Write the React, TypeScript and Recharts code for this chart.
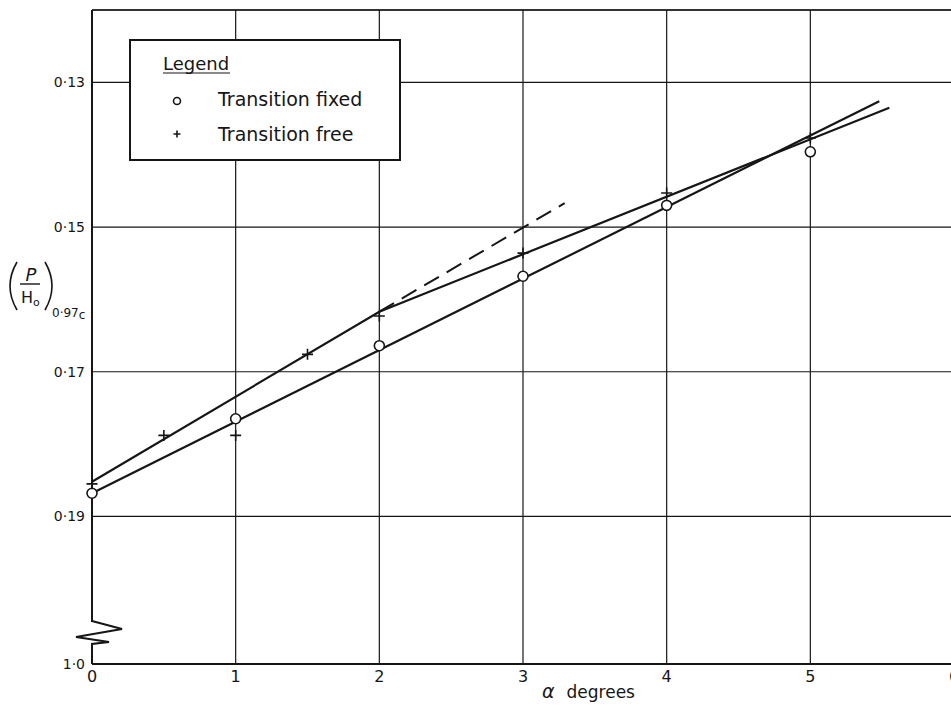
import {
  ComposedChart, Line, Scatter, XAxis, YAxis, CartesianGrid, ReferenceLine, Legend,
} from "recharts";

const FONT = "'DejaVu Sans', 'Liberation Sans', sans-serif";
const INK = "#161616";

// abscissa: incidence in degrees
const ALPHA_TICKS = [0, 1, 2, 3, 4, 5, 6];
// ordinate: (p/H0) at 0.97c, plotted downwards; broken below 0·19
const P_TICKS = [0.13, 0.15, 0.17, 0.19];
const P_TOP = 0.12;
const P_BREAK = 0.2104; // stands for 1·0 once the axis is broken

const FIXED_NAME = "Transition fixed";
const FREE_NAME = "Transition free";

// measured points
const FIXED_ALPHA = [0, 1, 2, 3, 4, 5];
const FIXED_P = [0.1868, 0.1765, 0.1664, 0.1568, 0.147, 0.1396];
const FREE_ALPHA = [0, 0.5, 1, 1.5, 2, 3, 4, 5];
const FREE_P = [0.1855, 0.1788, 0.1788, 0.1676, 0.1623, 0.1536, 0.1453, 0.1377];

// faired lines through them
const FIXED_FIT_ALPHA = [0, 5.48];
const FIXED_FIT_P = [0.1868, 0.1326];
const FREE_FIT_ALPHA = [0, 2, 5.55];
const FREE_FIT_P = [0.1852, 0.1617, 0.1335];
// first slope carried on past 2°
const FREE_EXT_ALPHA = [2, 3.29];
const FREE_EXT_P = [0.1617, 0.1467];

const zip = (xs: number[], ys: number[]) => xs.map((x, i) => ({ x, y: ys[i] }));

const fixedPts = zip(FIXED_ALPHA, FIXED_P);
const freePts = zip(FREE_ALPHA, FREE_P);
const fixedFit = zip(FIXED_FIT_ALPHA, FIXED_FIT_P);
const freeFit = zip(FREE_FIT_ALPHA, FREE_FIT_P);
const freeExt = zip(FREE_EXT_ALPHA, FREE_EXT_P);

// "0.13" -> "0·13"
function fmtP(v: number): string {
  return v === P_BREAK ? "1·0" : v.toFixed(2).replace(".", "·");
}

function Ring({ cx, cy, r = 5 }: any) {
  return <circle cx={cx} cy={cy} r={r} fill="#fff" stroke={INK} strokeWidth={1.6} />;
}

function Cross({ cx, cy, h = 5.5 }: any) {
  return (
    <path
      d={`M${cx - h},${cy}H${cx + h}M${cx},${cy - h}V${cy + h}`}
      stroke={INK}
      strokeWidth={1.6}
      fill="none"
    />
  );
}

function PTick({ x, y, payload }: any) {
  return (
    <text x={x} y={y} dy="0.35em" textAnchor="end" fontSize={14} fontFamily={FONT} fill={INK}>
      {fmtP(payload.value)}
    </text>
  );
}

function AlphaTick({ x, y, payload }: any) {
  return (
    <text x={x} y={y} dy="0.71em" textAnchor="middle" fontSize={16} fontFamily={FONT} fill={INK}>
      {payload.value}
    </text>
  );
}

function AlphaTitle() {
  return (
    <text x={542} y={698} fontSize={17} fontFamily={FONT} fill={INK}>
      <tspan fontStyle="italic" fontSize={19}>α</tspan>
      <tspan dx={12}>degrees</tspan>
    </text>
  );
}

// break mark on the ordinate plus the (p/H0) title
function PAxisDecor() {
  return (
    <g fill={INK} fontFamily={FONT}>
      <rect x={86} y={622} width={12} height={23} fill="#fff" />
      <polyline
        points="92,621 122,629 76,637 109,642 92,644 92,647"
        fill="none"
        stroke={INK}
        strokeWidth={2}
      />
      <path d="M17 262 Q3 286 17 310" fill="none" stroke={INK} strokeWidth={1.6} />
      <path d="M45 262 Q59 286 45 310" fill="none" stroke={INK} strokeWidth={1.6} />
      <text x={31} y={281} fontSize={18} fontStyle="italic" textAnchor="middle">P</text>
      <line x1={20} x2={40} y1={284} y2={284} stroke={INK} strokeWidth={1.4} />
      <text x={21} y={303} fontSize={16}>H</text>
      <text x={33} y={306} fontSize={11}>o</text>
      <text x={52} y={317} fontSize={12}>
        0·97<tspan dy={2}>c</tspan>
      </text>
    </g>
  );
}

function KeyBox({ payload }: any) {
  const items = (payload ?? []).filter((p: any) => p.type !== "none");
  return (
    <svg width={272} height={122} style={{ display: "block" }} fontFamily={FONT}>
      <rect x={1} y={1} width={270} height={120} fill="#fff" stroke={INK} strokeWidth={2} />
      <text x={34} y={31} fontSize={18} fill={INK}>Legend</text>
      <line x1={34} x2={101} y1={34} y2={34} stroke={INK} strokeWidth={1.2} />
      {items.map((it: any, i: number) => {
        const cy = 62 + i * 33;
        return (
          <g key={it.value}>
            {it.value === FREE_NAME ? (
              <Cross cx={48} cy={cy} h={3.5} />
            ) : (
              <Ring cx={48} cy={cy} r={3.5} />
            )}
            <text x={89} y={67 + i * 35} fontSize={19} fill={INK}>{it.value}</text>
          </g>
        );
      })}
    </svg>
  );
}

export default function App() {
  return (
    <div
      style={{
        position: "fixed", left: 0, top: 0, width: 951, height: 707,
        overflow: "hidden", background: "#fff",
      }}
    >
      <ComposedChart width={1000} height={707} margin={{ top: 10, right: 46, bottom: 0, left: 0 }}>
        <CartesianGrid stroke={INK} strokeWidth={1.2} />
        <XAxis
          type="number"
          dataKey="x"
          domain={[0, 6]}
          ticks={ALPHA_TICKS}
          height={43}
          tickLine={false}
          tickSize={0}
          tickMargin={7}
          tick={<AlphaTick />}
          axisLine={{ stroke: INK, strokeWidth: 2 }}
          label={<AlphaTitle />}
        />
        <YAxis
          type="number"
          domain={[P_TOP, P_BREAK]}
          reversed
          ticks={[...P_TICKS, P_BREAK]}
          width={92}
          tickLine={false}
          tickSize={0}
          tickMargin={7}
          tick={<PTick />}
          axisLine={{ stroke: INK, strokeWidth: 2 }}
          label={<PAxisDecor />}
        />
        <ReferenceLine y={P_TOP} stroke={INK} strokeWidth={1.6} />
        <Line data={fixedFit} dataKey="y" stroke={INK} strokeWidth={2.2} dot={false} activeDot={false} legendType="none" isAnimationActive={false} />
        <Line data={freeFit} dataKey="y" stroke={INK} strokeWidth={2.2} dot={false} activeDot={false} legendType="none" isAnimationActive={false} />
        <Line data={freeExt} dataKey="y" stroke={INK} strokeWidth={2} strokeDasharray="17 9" dot={false} activeDot={false} legendType="none" isAnimationActive={false} />
        <Scatter name={FIXED_NAME} data={fixedPts} dataKey="y" shape={<Ring />} isAnimationActive={false} />
        <Scatter name={FREE_NAME} data={freePts} dataKey="y" shape={<Cross />} isAnimationActive={false} />
        <Legend
          layout="vertical"
          align="center"
          verticalAlign="middle"
          content={<KeyBox />}
          wrapperStyle={{ left: 129, top: 39, width: 272, height: 122 }}
        />
      </ComposedChart>
    </div>
  );
}
